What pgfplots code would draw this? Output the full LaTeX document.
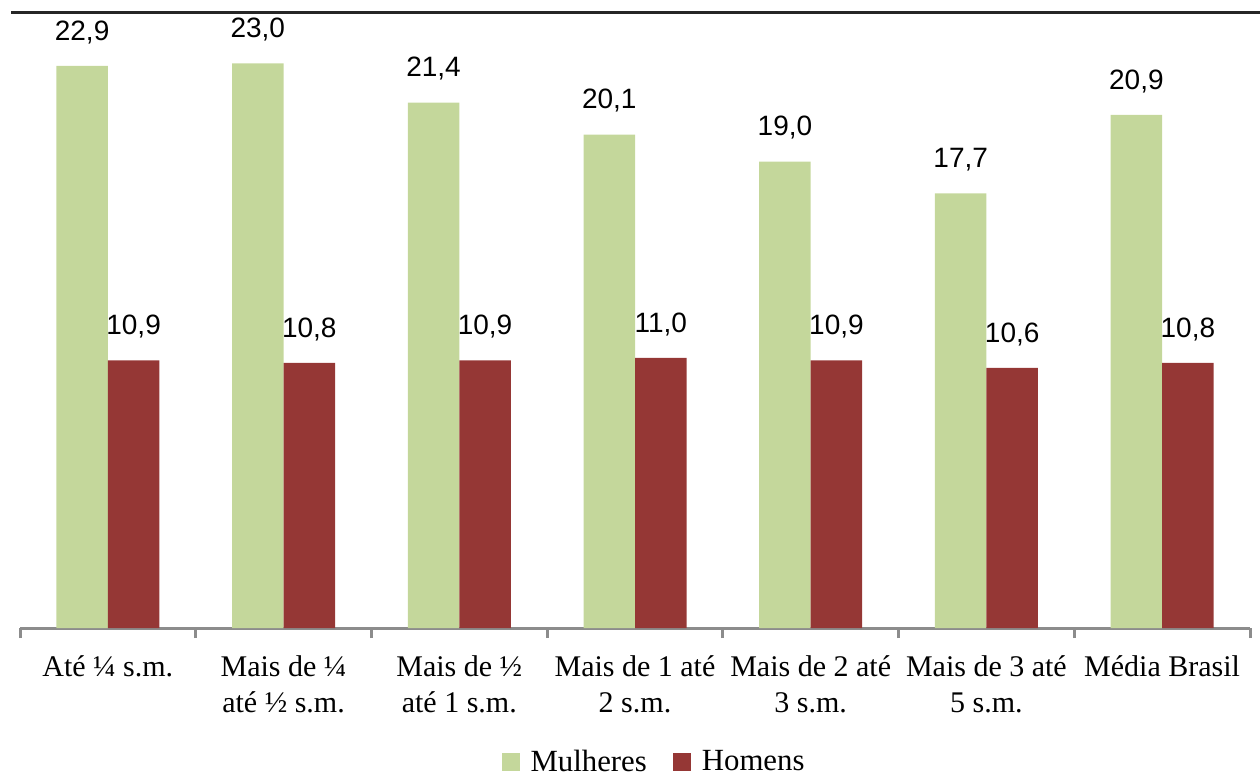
\documentclass[border=0pt]{standalone}
\usepackage{pgfplots}
\pgfplotsset{compat=1.18}
\usepackage{fontspec}
\setmainfont{Liberation Serif}
\newfontfamily\valuefont{Liberation Sans}

\definecolor{mulheres}{RGB}{196,215,155}
\definecolor{homens}{RGB}{149,55,53}
\definecolor{axisgray}{RGB}{140,140,140}
\definecolor{topline}{RGB}{38,38,38}

\begin{document}
\begin{tikzpicture}
\useasboundingbox (-10pt,-75pt) rectangle (620pt,314pt);
\begin{axis}[
  scale only axis,
  width=615pt, height=307.75pt,
  anchor=south west, at={(0pt,0pt)},
  ybar=0pt, bar width=25.75pt,
  xmin=-0.5, xmax=6.5, ymin=0, ymax=25.07,
  axis x line*=bottom, axis y line=none,
  x axis line style={axisgray, line width=1.5pt, -},
  xtick={0,...,6},
  xticklabels={
    {Até ¼ s.m.},
    {Mais de ¼\\até ½ s.m.},
    {Mais de ½\\até 1 s.m.},
    {Mais de 1 até\\2 s.m.},
    {Mais de 2 até\\3 s.m.},
    {Mais de 3 até\\5 s.m.},
    {Média Brasil}},
  major tick length=0pt,
  minor xtick={-0.5,0.5,...,6.5},
  minor tick length=5pt,
  tick align=outside,
  minor tick style={axisgray, line width=1.5pt},
  xticklabel style={font=\fontsize{15}{18}\selectfont, align=center, text=black, anchor=north, yshift=-10.4pt},
  /pgf/number format/fixed,
  /pgf/number format/fixed zerofill,
  /pgf/number format/precision=1,
  /pgf/number format/use comma,
  /pgf/number format/assume math mode=true,
  nodes near coords,
  nodes near coords style={font=\valuefont\fontsize{14}{16}\selectfont, text=black, yshift=7.5pt},
  legend style={at={(axis description cs:0.5163,0)}, anchor=center, yshift=-67pt,
    draw=none, fill=none, font=\fontsize{15.4}{18}\selectfont,
    /tikz/every even column/.append style={column sep=11pt}},
  legend columns=-1,
  legend image code/.code={\fill[#1, draw=none] (0pt,-4.5pt) rectangle (9pt,4.5pt);
    \path (12.5pt,0pt);},
]
% Mulheres
\addplot[fill=mulheres, draw=none] coordinates {
  (0,22.9) (1,23.0) (2,21.4) (3,20.1) (4,19.0) (5,17.7) (6,20.9)};
% Homens
\addplot[fill=homens, draw=none] coordinates {
  (0,10.9) (1,10.8) (2,10.9) (3,11.0) (4,10.9) (5,10.6) (6,10.8)};
\legend{Mulheres, Homens}
\end{axis}
\draw[topline, line width=1.5pt] (-4.5pt,307.75pt) -- (625pt,307.75pt);
\end{tikzpicture}
\end{document}
